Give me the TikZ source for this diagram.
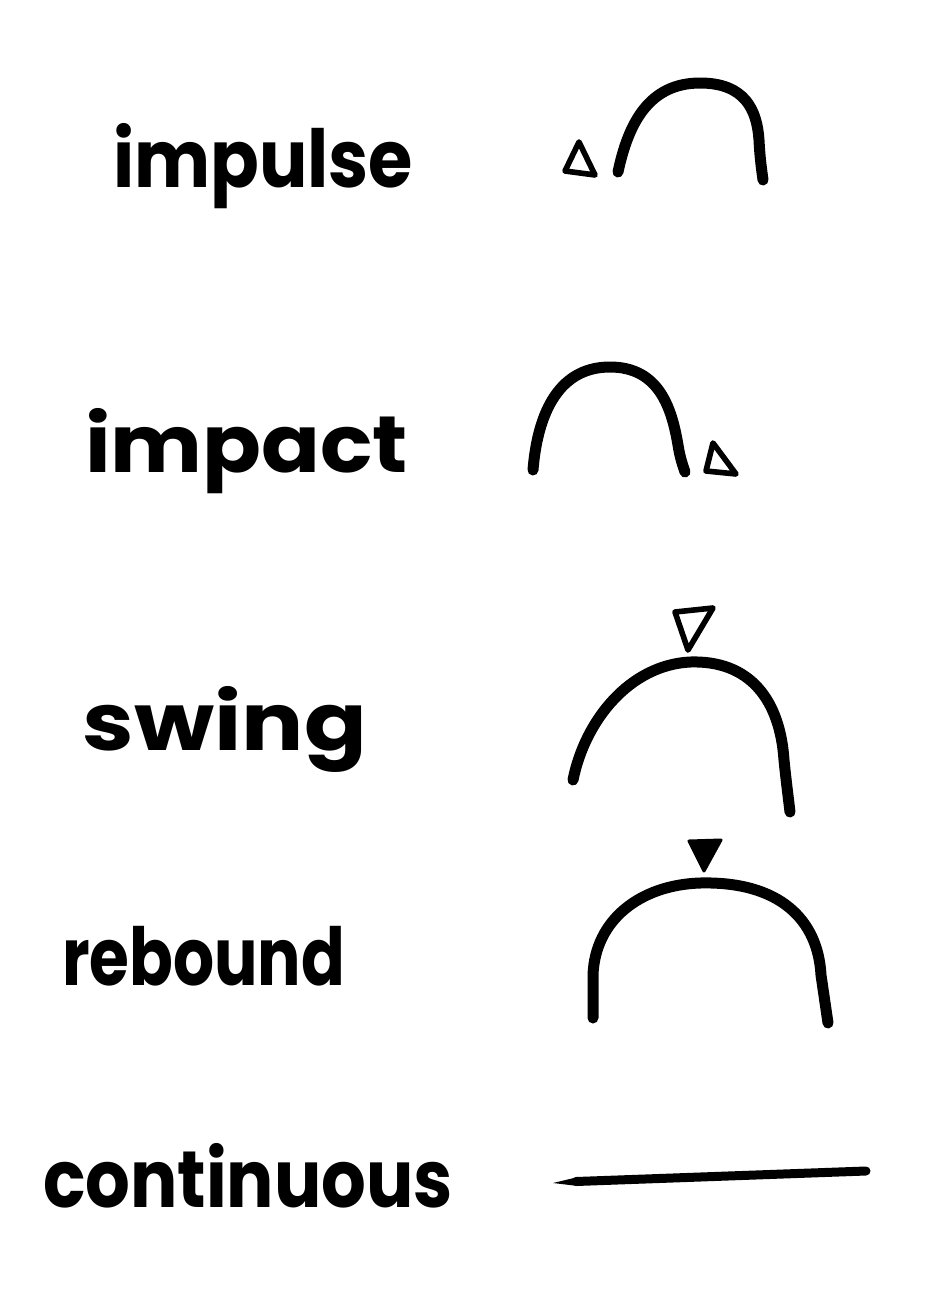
\documentclass[tikz,border=0pt]{standalone}
\usepackage{fontspec}
\newfontfamily\hand{Poppins}
\tikzset{
  word/.style={inner sep=0pt, outer sep=0pt, anchor=base west, text=black},
  arch/.style={line width=5.5pt, line cap=round, line join=round, black},
  opentri/.style={line width=2.8pt, line join=round, black},
  solidtri/.style={fill=black, draw=black, line width=1.5pt, line join=round},
}
\newcommand{\handword}[2]{\resizebox{#1}{\height}{\hand\bfseries\fontsize{40}{40}\selectfont #2}}
\begin{document}
\begin{tikzpicture}[x=0.5pt,y=-0.5pt]
\useasboundingbox (0,0) rectangle (925,1292);
\fill[white] (0,0) rectangle (925,1292);

% labels
\node[word] (impulse) at (113,187) {\handword{150pt}{impulse}};
\node[word] (impact) at (85,472) {\handword{161.5pt}{impact}};
\node[word] (swing) at (83,750) {\handword{142pt}{swing}};
\node[word] (rebound) at (62,985) {\handword{141.5pt}{rebound}};
\node[word] (continuous) at (43,1207) {\handword{205pt}{continuous}};

% impulse
\draw[opentri] (579,142) -- (565,171) -- (595,175) -- cycle;
\draw[arch] (618,172) .. controls (628,125) and (648,83) .. (700,83)
  .. controls (745,83) and (757,110) .. (759,140)
  .. controls (760,160) and (762,172) .. (763,180);

% impact
\draw[arch] (533,470) .. controls (537,420) and (555,367) .. (610,367)
  .. controls (660,367) and (672,410) .. (678,445)
  .. controls (680,458) and (683,466) .. (685,472);
\draw[opentri] (713,443) -- (706,471) -- (736,474) -- cycle;

% swing
\draw[opentri] (675,612) -- (713,608) -- (688,650) -- cycle;
\draw[arch] (573,780) .. controls (585,720) and (630,665) .. (690,662)
  .. controls (750,660) and (780,700) .. (784,760)
  .. controls (786,780) and (788,795) .. (790,812);

% rebound
\draw[solidtri] (689,841) -- (721,840) -- (704,871) -- cycle;
\draw[arch] (593,1018) -- (593,975) .. controls (595,920) and (640,885) .. (700,883)
  .. controls (780,881) and (818,920) .. (821,975) -- (828,1023);

% continuous
\fill[black] (553,1183) -- (578,1177) -- (578,1186) -- cycle;
\draw[line width=4.5pt, line cap=round, black] (576,1181.5) -- (866,1171);
\end{tikzpicture}
\end{document}
